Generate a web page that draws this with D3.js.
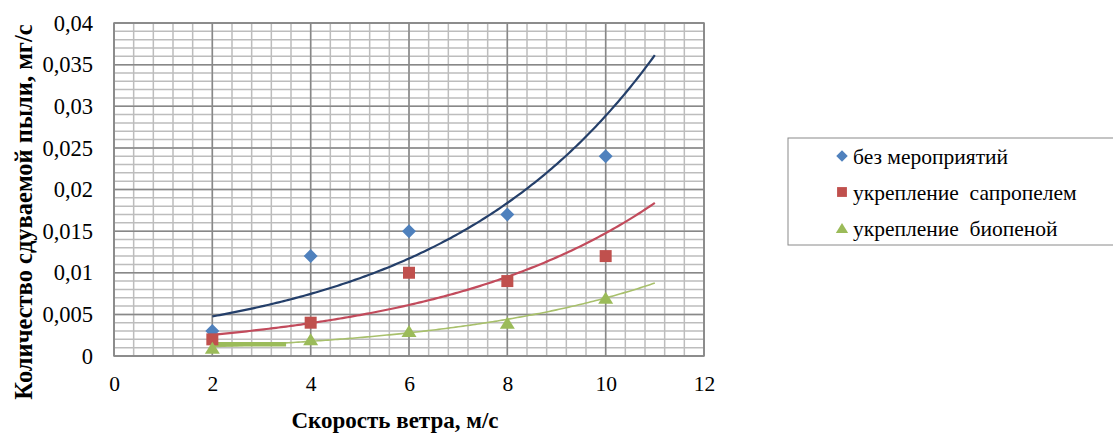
<!DOCTYPE html>
<html>
<head>
<meta charset="utf-8">
<script src="https://cdn.jsdelivr.net/npm/d3@7"></script>
<style>
  html, body { margin: 0; padding: 0; background: #fff; }
  svg { display: block; }
</style>
</head>
<body>
<svg id="chart" width="1113" height="437" font-family="Liberation Serif, serif"></svg>
<script>
// Wind speed, m/s
const windSpeed = [2, 4, 6, 8, 10];
// Blown-off dust, mg/s
const noMeasures = [0.003, 0.012, 0.015, 0.017, 0.024];
const sapropel = [0.002, 0.004, 0.010, 0.009, 0.012];
const bioFoam = [0.001, 0.002, 0.003, 0.004, 0.007];
const seriesNames = ["без мероприятий", "укрепление  сапропелем", "укрепление  биопеной"];
const xTicks = [0, 2, 4, 6, 8, 10, 12];
const yTicks = [0, 0.005, 0.01, 0.015, 0.02, 0.025, 0.03, 0.035, 0.04];
// stray thick green stroke along the bottom
const greenStrokeX = [2, 3.5];
const greenStrokeY = [0.0014, 0.0014];
const trendRange = [2, 11];

const SERIF = "Liberation Serif";
const svg = d3.select("#chart");
const plot = { left: 114, right: 704, top: 23, bottom: 356 };

const x = d3.scaleLinear().domain([0, 12]).range([plot.left, plot.right]);
const y = d3.scaleLinear().domain([0, 0.04]).range([plot.bottom, plot.top]);

// minor grid
const g = svg.append("g");
d3.range(0, 12.0001, 0.4).forEach(v => {
  g.append("line").attr("x1", x(v)).attr("x2", x(v)).attr("y1", plot.top).attr("y2", plot.bottom)
    .attr("stroke", "#bdbdbd").attr("stroke-width", 1.5);
});
d3.range(0, 0.04001, 0.001).forEach(v => {
  g.append("line").attr("x1", plot.left).attr("x2", plot.right).attr("y1", y(v)).attr("y2", y(v))
    .attr("stroke", "#bdbdbd").attr("stroke-width", 1.5);
});
// major grid
xTicks.forEach(v => {
  g.append("line").attr("x1", x(v)).attr("x2", x(v)).attr("y1", plot.top).attr("y2", plot.bottom)
    .attr("stroke", "#888").attr("stroke-width", 1.5);
});
yTicks.forEach(v => {
  g.append("line").attr("x1", plot.left).attr("x2", plot.right).attr("y1", y(v)).attr("y2", y(v))
    .attr("stroke", "#888").attr("stroke-width", 1.5);
});
g.append("rect").attr("x", plot.left).attr("y", plot.top)
  .attr("width", plot.right - plot.left).attr("height", plot.bottom - plot.top)
  .attr("fill", "none").attr("stroke", "#888").attr("stroke-width", 1.5);

// axes
const fmt = v => String(+v.toFixed(3)).replace(".", ",");
const xAxis = svg.append("g").attr("transform", `translate(0,${plot.bottom})`)
  .call(d3.axisBottom(x).tickValues(xTicks).tickSize(0).tickPadding(20));
const yAxis = svg.append("g").attr("transform", `translate(${plot.left},0)`)
  .call(d3.axisLeft(y).tickValues(yTicks).tickFormat(fmt).tickSize(0).tickPadding(21));
xAxis.attr("font-size", 21.5);
yAxis.attr("font-size", 22.5);
[xAxis, yAxis].forEach(a => {
  a.attr("font-family", SERIF);
  a.select(".domain").remove();
  a.selectAll("text").attr("font-family", SERIF).attr("fill", "#000");
});

// axis titles
svg.append("text").attr("x", 395).attr("y", 428).attr("text-anchor", "middle")
  .attr("font-family", SERIF).attr("font-size", 23).attr("font-weight", "bold").text("Скорость ветра, м/с");
svg.append("text").attr("transform", "translate(32,212) rotate(-90)").attr("text-anchor", "middle")
  .attr("font-family", SERIF).attr("font-size", 24.5).attr("font-weight", "bold").text("Количество сдуваемой пыли, мг/с");

// exponential trendlines (least squares on ln y)
function expFit(xs, ys) {
  const ly = ys.map(Math.log);
  const mx = d3.mean(xs), my = d3.mean(ly);
  const b = d3.sum(xs, (xi, i) => (xi - mx) * (ly[i] - my)) / d3.sum(xs, xi => (xi - mx) ** 2);
  const a = Math.exp(my - b * mx);
  return t => a * Math.exp(b * t);
}
// marker shapes, centred on their bounding box; size = width in px
const diamond = { draw(ctx, w) { const r = w / 2;
  ctx.moveTo(0, -r); ctx.lineTo(r, 0); ctx.lineTo(0, r); ctx.lineTo(-r, 0); ctx.closePath(); } };
const square = { draw(ctx, w) { const r = w / 2; ctx.rect(-r, -r, w, w); } };
const triangle = { draw(ctx, w) { const r = w / 2, h = w * 0.8;
  ctx.moveTo(0, -h / 2); ctx.lineTo(r, h / 2); ctx.lineTo(-r, h / 2); ctx.closePath(); } };

const series = [
  { values: noMeasures, marker: "#4f81bd", trend: "#243f6a", tw: 2.2, shape: diamond, size: 14 },
  { values: sapropel, marker: "#c0504d", trend: "#c24b5c", tw: 2.2, shape: square, size: 12 },
  { values: bioFoam, marker: "#9bbb59", trend: "#a8c06c", tw: 1.6, shape: triangle, size: 15 }
];
const line = d3.line().x(d => x(d[0])).y(d => y(d[1]));
series.forEach(s => {
  const f = expFit(windSpeed, s.values);
  const pts = d3.range(trendRange[0], trendRange[1] + 0.0001, 0.05).map(t => [t, f(t)]);
  svg.append("path").datum(pts).attr("d", line).attr("fill", "none")
    .attr("stroke", s.trend).attr("stroke-width", s.tw);
});

// green stroke
svg.append("path").datum(greenStrokeX.map((v, i) => [v, greenStrokeY[i]])).attr("d", line)
  .attr("fill", "none").attr("stroke", "#9bbb59").attr("stroke-width", 4.5);

// markers
series.forEach(s => {
  svg.append("g").selectAll("path").data(windSpeed.map((v, i) => [v, s.values[i]])).join("path")
    .attr("transform", d => `translate(${x(d[0])},${y(d[1])})`)
    .attr("d", d3.symbol().type(s.shape).size(s.size))
    .attr("fill", s.marker);
});

// legend
const lg = svg.append("g");
lg.append("rect").attr("x", 788).attr("y", 138).attr("width", 330).attr("height", 107)
  .attr("fill", "#fff").attr("stroke", "#8a8a8a").attr("stroke-width", 1);
const legendMarkY = [156, 192, 228];
const legendTextY = [163.5, 200, 235.5];
series.forEach((s, i) => {
  lg.append("path").attr("transform", `translate(842,${legendMarkY[i]})`)
    .attr("d", d3.symbol().type(s.shape).size(s.size * 0.82)).attr("fill", s.marker);
  lg.append("text").attr("x", 853).attr("y", legendTextY[i]).attr("font-family", SERIF).attr("font-size", 21.5)
    .style("white-space", "pre").text(seriesNames[i]);
});
</script>
</body>
</html>
